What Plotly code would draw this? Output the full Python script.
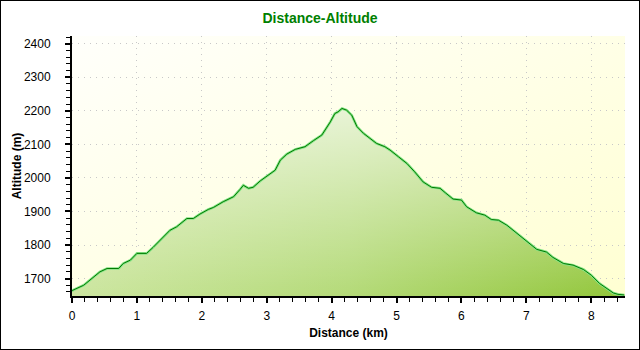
import base64
import plotly.graph_objects as go

# Route profile: distance along the track (km) and altitude (m)
distance_km = [0.00, 0.01, 0.18, 0.33, 0.43, 0.54, 0.72, 0.79, 0.90, 1.00,
               1.15, 1.25, 1.38, 1.51, 1.61, 1.77, 1.87, 1.97, 2.10, 2.18,
               2.33, 2.49, 2.59, 2.64, 2.72, 2.79, 2.90, 3.00, 3.13, 3.21,
               3.31, 3.44, 3.59, 3.72, 3.85, 3.98, 4.05, 4.10, 4.16, 4.23,
               4.31, 4.39, 4.49, 4.59, 4.69, 4.82, 4.90, 5.03, 5.16, 5.28,
               5.41, 5.54, 5.67, 5.75, 5.87, 6.00, 6.08, 6.23, 6.36, 6.46,
               6.57, 6.70, 6.85, 7.00, 7.16, 7.31, 7.41, 7.57, 7.72, 7.88,
               8.00, 8.13, 8.24, 8.34, 8.41, 8.51]
altitude_m = [1662, 1665, 1680, 1705, 1720, 1730, 1730, 1745, 1755, 1775,
              1775, 1793, 1819, 1844, 1854, 1879, 1879, 1892, 1906, 1912,
              1929, 1944, 1966, 1978, 1969, 1972, 1991, 2005, 2023, 2053,
              2071, 2085, 2093, 2111, 2128, 2167, 2192, 2197, 2207, 2202,
              2187, 2153, 2133, 2118, 2103, 2093, 2083, 2063, 2043, 2018,
              1988, 1972, 1969, 1956, 1937, 1934, 1914, 1896, 1889, 1876,
              1874, 1859, 1836, 1811, 1787, 1779, 1763, 1745, 1740, 1727,
              1710, 1685, 1670, 1657, 1653, 1651]

x_range = [0, 8.52]
y_range = [1648, 2423]

W, H = 640, 350
ML, MR, MT, MB = 72, 15, 36, 54
PW, PH = W - ML - MR, H - MT - MB

FONT = "Arial, Liberation Sans, sans-serif"
GREEN_DARK = "#007a00"

# Diagonal pale-yellow backdrop for the plotting area
bg_svg = (
    '<svg xmlns="http://www.w3.org/2000/svg" width="100" height="100" '
    'preserveAspectRatio="none" viewBox="0 0 100 100">'
    '<defs><linearGradient id="g" x1="0" y1="0" x2="1" y2="1">'
    '<stop offset="0" stop-color="#fffffb"/>'
    '<stop offset="1" stop-color="#ffffd2"/>'
    '</linearGradient></defs>'
    '<rect width="100" height="100" fill="url(#g)"/></svg>'
)
bg_uri = "data:image/svg+xml;base64," + base64.b64encode(bg_svg.encode()).decode()

fig = go.Figure()

# Area under the profile: light-to-saturated green from left to right
fig.add_trace(go.Scatter(
    x=distance_km, y=altitude_m, mode="none", fill="tozeroy",
    fillgradient=dict(type="horizontal", start=x_range[0], stop=x_range[1],
                      colorscale=[[0, "#cce6a0"], [0.5, "#b4da78"], [1, "#92c63a"]]),
    hoverinfo="skip", showlegend=False,
))
# Whitish sheen that fades toward the valley floor
fig.add_trace(go.Scatter(
    x=distance_km, y=altitude_m, mode="none", fill="tozeroy",
    fillgradient=dict(type="vertical", start=y_range[0], stop=max(altitude_m),
                      colorscale=[[0, "rgba(255,255,255,0)"],
                                  [1, "rgba(255,255,255,0.7)"]]),
    hoverinfo="skip", showlegend=False,
))
# Profile line with a soft light-green halo
fig.add_trace(go.Scatter(
    x=distance_km, y=altitude_m, mode="lines",
    line=dict(color="#86e486", width=2.6),
    hoverinfo="skip", showlegend=False,
))
fig.add_trace(go.Scatter(
    x=distance_km, y=altitude_m, mode="lines",
    line=dict(color=GREEN_DARK, width=1),
    showlegend=False,
))

tick_font = dict(family=FONT, size=12, color="black")
title_font = dict(family=FONT, size=12, color="black")
grid = dict(showgrid=True, gridcolor="#c8c8c8", griddash="1px,5px", gridwidth=1)

fig.update_layout(
    width=W, height=H,
    margin=dict(l=ML, r=MR, t=MT, b=MB, pad=0),
    paper_bgcolor="white",
    plot_bgcolor="rgba(0,0,0,0)",
    title=dict(text="<b>Distance-Altitude</b>", xref="container", x=0.5,
               xanchor="center", yref="container", y=1 - 18 / H, yanchor="middle",
               font=dict(family=FONT, size=14, color="#008000")),
    images=[dict(source=bg_uri, xref="paper", yref="paper", x=0, y=1,
                 sizex=1, sizey=1, xanchor="left", yanchor="top",
                 sizing="stretch", layer="below")],
    xaxis=dict(
        range=x_range, tick0=0, dtick=1, ticks="outside", ticklen=5, tickwidth=2,
        tickcolor="black", showline=True, linecolor="black", linewidth=2,
        zeroline=False, tickfont=tick_font, ticklabelstandoff=3,
        minor=dict(ticks="outside", ticklen=4, tickwidth=1, dtick=0.2,
                   tickcolor="black", showgrid=False),
        title=dict(text="<b>Distance (km)</b>", font=title_font, standoff=6),
        **grid,
    ),
    xaxis2=dict(
        overlaying="x", matches="x", anchor="y", side="bottom",
        range=x_range, tick0=0, dtick=1, ticks="inside", ticklen=5, tickwidth=2,
        tickcolor="black", showticklabels=False, showgrid=False,
        showline=False, zeroline=False,
    ),
    xaxis3=dict(
        overlaying="x", matches="x", anchor="y", side="top",
        range=x_range, tick0=0, dtick=1, ticks="inside", ticklen=5, tickwidth=1,
        tickcolor="black", showticklabels=False, showgrid=False,
        showline=True, linecolor="black", linewidth=2, zeroline=False,
        minor=dict(ticks="inside", ticklen=4, tickwidth=1, dtick=0.2,
                   tickcolor="black", showgrid=False),
    ),
    yaxis=dict(
        range=y_range, tick0=0, dtick=100, ticks="outside", ticklen=5, tickwidth=2,
        tickcolor="black", showline=True, linecolor="black", linewidth=2,
        zeroline=False, tickfont=tick_font, ticklabelstandoff=12,
        minor=dict(ticks="outside", ticklen=4, tickwidth=1, dtick=20,
                   tickcolor="black", showgrid=False),
        title=dict(text="<b>Altitude (m)</b>", font=title_font, standoff=0),
        **grid,
    ),
    yaxis2=dict(
        overlaying="y", matches="y", anchor="x", side="left",
        range=y_range, tick0=0, dtick=100, ticks="inside", ticklen=5, tickwidth=2,
        tickcolor="black", showticklabels=False, showgrid=False,
        showline=False, zeroline=False,
    ),
    yaxis3=dict(
        overlaying="y", matches="y", anchor="x", side="right",
        range=y_range, tick0=0, dtick=100, ticks="inside", ticklen=5, tickwidth=1,
        tickcolor="black", showticklabels=False, showgrid=False,
        showline=True, linecolor="black", linewidth=2, zeroline=False,
        minor=dict(ticks="inside", ticklen=4, tickwidth=1, dtick=20,
                   tickcolor="black", showgrid=False),
    ),
    shapes=[dict(type="rect", xref="paper", yref="paper",
                 x0=-ML / PW, x1=(W - ML) / PW, y0=-MB / PH, y1=(H - MB) / PH,
                 line=dict(color="black", width=2), fillcolor="rgba(0,0,0,0)",
                 layer="above")],
)

fig.write_html("out.html")
